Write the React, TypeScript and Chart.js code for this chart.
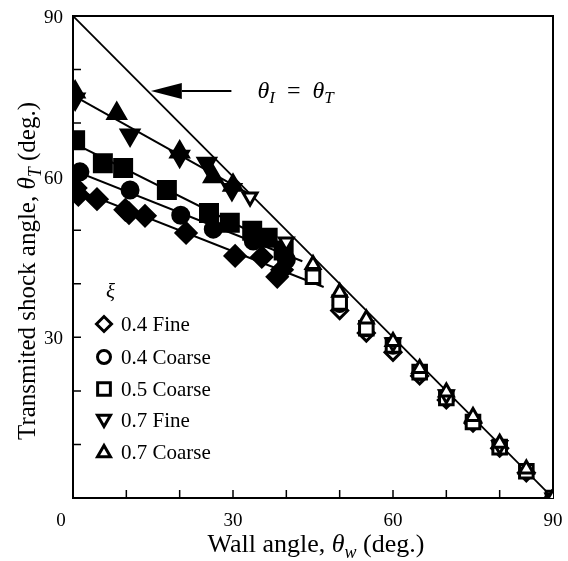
import React, { useEffect, useRef } from "react";
import { Chart, registerables } from "chart.js";
import { drawPoint } from "chart.js/helpers";
Chart.register(...registerables);

const FONT = '"Liberation Serif", "DejaVu Serif", serif';

// ---- data ----
const seriesLabels = ["0.4 Fine", "0.4 Coarse", "0.5 Coarse", "0.7 Fine", "0.7 Coarse"];
const seriesShapes = ["rectRot", "circle", "rect", "triangle", "triangle"];
const seriesRotations = [0, 0, 0, 180, 0];
const seriesRadius = [10, 8, 12, 10, 10];

const fine04FilledX = [0.5, 1.0, 4.5, 9.8, 10.5, 13.5, 21.2, 30.4, 35.4, 38.3, 39.2];
const fine04FilledY = [57.9, 56.6, 55.8, 53.8, 53.2, 52.7, 49.5, 45.2, 45.0, 41.3, 42.6];
const fine04OpenX = [50, 55, 60, 65, 70, 75, 80, 85, 90];
const fine04OpenY = [35.0, 30.8, 27.2, 22.8, 18.3, 14.0, 9.3, 4.7, 0];

const coarse04FilledX = [1.3, 10.7, 20.2, 26.3, 33.8, 40.0];
const coarse04FilledY = [60.9, 57.5, 52.8, 50.2, 48.0, 44.5];
const coarse04OpenX = [50, 55, 60, 65, 70, 75, 80, 85, 90];
const coarse04OpenY = [36.0, 31.5, 28.2, 23.3, 18.8, 14.3, 9.6, 5.0, 0];

const coarse05FilledX = [0.4, 5.6, 9.4, 17.6, 25.5, 29.4, 33.6, 36.5, 39.5];
const coarse05FilledY = [66.8, 62.5, 61.6, 57.5, 53.2, 51.4, 49.9, 48.6, 46.2];
const coarse05OpenX = [45, 50, 55, 60, 65, 70, 75, 80, 85, 90];
const coarse05OpenY = [41.3, 36.5, 31.7, 28.5, 23.5, 18.7, 14.2, 9.5, 5.0, 0];

const fine07FilledX = [0.4, 10.7, 20.0, 25.1, 29.8];
const fine07FilledY = [74.5, 67.8, 63.8, 62.5, 57.6];
const fine07OpenX = [33.2, 40, 60, 70, 80, 90];
const fine07OpenY = [56.2, 47.8, 29.0, 19.3, 9.8, 0];

const coarse07FilledX = [0.4, 8.2, 20.0, 26.3, 30.0];
const coarse07FilledY = [75.8, 71.8, 64.6, 60.0, 58.4];
const coarse07OpenX = [45, 50, 55, 60, 65, 70, 75, 80, 85, 90];
const coarse07OpenY = [43.6, 38.4, 33.4, 29.2, 24.2, 19.8, 15.2, 10.2, 5.4, 0];

// fitted lines
const lineFine04X = [0, 47];
const lineFine04Y = [57.8, 39.4];
const lineCoarse04X = [0, 43];
const lineCoarse04Y = [61.2, 44.2];
const lineCoarse05X = [0, 40];
const lineCoarse05Y = [66.3, 46.4];
const line07X = [0, 33];
const line07Y = [75.2, 56.8];
const diagX = [0, 90];
const diagY = [90, 0];

const xTickValues = [0, 30, 60, 90];
const yTickValues = [30, 60, 90];
const minorTickValues = [10, 20, 30, 40, 50, 60, 70, 80];

const filledX = [fine04FilledX, coarse04FilledX, coarse05FilledX, fine07FilledX, coarse07FilledX];
const filledY = [fine04FilledY, coarse04FilledY, coarse05FilledY, fine07FilledY, coarse07FilledY];
const openX = [fine04OpenX, coarse04OpenX, coarse05OpenX, fine07OpenX, coarse07OpenX];
const openY = [fine04OpenY, coarse04OpenY, coarse05OpenY, fine07OpenY, coarse07OpenY];
const linesX = [lineFine04X, lineCoarse04X, lineCoarse05X, line07X];
const linesY = [lineFine04Y, lineCoarse04Y, lineCoarse05Y, line07Y];

function pts(x: number[], y: number[]) {
  return x.map((v, i) => ({ x: v, y: y[i] }));
}

type Piece = { t: string; italic?: boolean; sub?: boolean };

function drawRich(ctx: CanvasRenderingContext2D, pieces: Piece[], x: number, y: number, size: number, align: "left" | "center") {
  const fontFor = (p: Piece) => `${p.italic ? "italic " : ""}${p.sub ? Math.round(size * 0.7) : size}px ${FONT}`;
  let total = 0;
  const widths = pieces.map((p) => {
    ctx.font = fontFor(p);
    const w = ctx.measureText(p.t).width;
    total += w;
    return w;
  });
  let cx = align === "center" ? x - total / 2 : x;
  ctx.textAlign = "left";
  ctx.textBaseline = "alphabetic";
  pieces.forEach((p, i) => {
    ctx.font = fontFor(p);
    ctx.fillText(p.t, cx, y + (p.sub ? size * 0.22 : 0));
    cx += widths[i];
  });
}

const decorPlugin = {
  id: "decor",
  beforeDatasetsDraw(chart: any) {
    const { ctx, chartArea: a, scales } = chart;
    ctx.save();
    ctx.strokeStyle = "#000";
    ctx.lineWidth = 2;
    ctx.strokeRect(a.left, a.top, a.right - a.left, a.bottom - a.top);
    ctx.lineWidth = 1.5;
    ctx.beginPath();
    minorTickValues.forEach((v) => {
      const px = scales.x.getPixelForValue(v);
      ctx.moveTo(px, a.bottom);
      ctx.lineTo(px, a.bottom - 8);
      const py = scales.y.getPixelForValue(v);
      ctx.moveTo(a.left, py);
      ctx.lineTo(a.left + 8, py);
    });
    ctx.stroke();
    ctx.restore();
  },
  afterDraw(chart: any) {
    const { ctx, chartArea: a, scales } = chart;
    ctx.save();
    ctx.fillStyle = "#000";
    // tick labels
    ctx.font = `19px ${FONT}`;
    ctx.textBaseline = "alphabetic";
    xTickValues.forEach((v) => {
      let px = scales.x.getPixelForValue(v);
      if (v === 0) px -= 12;
      ctx.textAlign = "center";
      ctx.fillText(String(v), px, a.bottom + 28);
    });
    yTickValues.forEach((v) => {
      const py = scales.y.getPixelForValue(v);
      ctx.textAlign = "right";
      ctx.fillText(String(v), a.left - 10, py + 7);
    });
    // x title
    drawRich(
      ctx,
      [{ t: "Wall angle, " }, { t: "θ", italic: true }, { t: "w", italic: true, sub: true }, { t: " (deg.)" }],
      (a.left + a.right) / 2 + 3,
      a.bottom + 54,
      26,
      "center"
    );
    // y title
    ctx.save();
    ctx.translate(35, 271);
    ctx.rotate(-Math.PI / 2);
    drawRich(
      ctx,
      [{ t: "Transmited shock angle, " }, { t: "θ", italic: true }, { t: "T", italic: true, sub: true }, { t: " (deg.)" }],
      0,
      0,
      25,
      "center"
    );
    ctx.restore();
    // annotation arrow
    const tipX = scales.x.getPixelForValue(14.6);
    const ay = scales.y.getPixelForValue(76.0);
    const baseX = scales.x.getPixelForValue(20.4);
    const endX = scales.x.getPixelForValue(29.7);
    ctx.beginPath();
    ctx.moveTo(tipX, ay);
    ctx.lineTo(baseX, ay - 8);
    ctx.lineTo(baseX, ay + 8);
    ctx.closePath();
    ctx.fill();
    ctx.lineWidth = 2;
    ctx.strokeStyle = "#000";
    ctx.beginPath();
    ctx.moveTo(baseX, ay);
    ctx.lineTo(endX, ay);
    ctx.stroke();
    drawRich(
      ctx,
      [{ t: "θ", italic: true }, { t: "I", italic: true, sub: true }, { t: "  =  " }, { t: "θ", italic: true }, { t: "T", italic: true, sub: true }],
      scales.x.getPixelForValue(34.6),
      ay + 7,
      24,
      "left"
    );
    // legend
    const lx = 104;
    const tx = 121;
    const rows = [324, 357, 389, 420, 452];
    ctx.font = `italic 21px ${FONT}`;
    ctx.textAlign = "left";
    ctx.fillText("ξ", lx + 2, 298);
    seriesLabels.forEach((lab, i) => {
      ctx.fillStyle = "#fff";
      ctx.strokeStyle = "#000";
      ctx.lineWidth = 3;
      const r = seriesShapes[i] === "rect" ? 9 : seriesShapes[i] === "circle" ? 6.5 : 7.5;
      drawPoint(
        ctx,
        { pointStyle: seriesShapes[i], rotation: seriesRotations[i], radius: r, borderWidth: 3 } as any,
        lx,
        rows[i] + (seriesShapes[i] === "triangle" ? (seriesRotations[i] ? -1 : 1) : 0)
      );
      ctx.fillStyle = "#000";
      ctx.font = `21px ${FONT}`;
      ctx.textBaseline = "middle";
      ctx.fillText(lab, tx, rows[i] + 1);
      ctx.textBaseline = "alphabetic";
    });
    ctx.restore();
  },
};

export default function App() {
  const ref = useRef<HTMLCanvasElement>(null);
  useEffect(() => {
    if (!ref.current) return;
    const markerSets = seriesLabels.map((label, i) => ({
      label,
      data: [...pts(filledX[i], filledY[i]), ...pts(openX[i], openY[i])],
      showLine: false,
      pointStyle: seriesShapes[i],
      pointRotation: seriesRotations[i],
      pointRadius: [...filledX[i].map(() => seriesRadius[i]), ...openX[i].map(() => seriesRadius[i] * 0.8)],
      pointBackgroundColor: [...filledX[i].map(() => "#000"), ...openX[i].map(() => "#fff")],
      pointBorderColor: "#000",
      pointBorderWidth: 3,
    }));
    const lineSets = linesX.map((lx, i) => ({
      label: "fit" + i,
      data: pts(lx, linesY[i]),
      showLine: true,
      borderColor: "#000",
      borderWidth: 2,
      pointRadius: 0,
    }));
    const diagSet = {
      label: "diag",
      data: pts(diagX, diagY),
      showLine: true,
      borderColor: "#000",
      borderWidth: 1.8,
      pointRadius: 0,
    };
    const chart = new Chart(ref.current, {
      type: "scatter",
      data: { datasets: [...markerSets.reverse(), ...lineSets, diagSet] as any },
      options: {
        animation: false,
        responsive: false,
        layout: { padding: { top: 16, right: 15, left: 0, bottom: 0 } },
        plugins: { legend: { display: false }, tooltip: { enabled: false } },
        scales: {
          x: {
            type: "linear",
            min: 0,
            max: 90,
            ticks: { display: false, stepSize: 10 },
            grid: { display: false },
            border: { display: false },
            afterFit: (s: any) => {
              s.height = 63;
            },
          },
          y: {
            type: "linear",
            min: 0,
            max: 90,
            ticks: { display: false, stepSize: 10 },
            grid: { display: false },
            border: { display: false },
            afterFit: (s: any) => {
              s.width = 73;
            },
          },
        },
      } as any,
      plugins: [decorPlugin],
    });
    return () => chart.destroy();
  }, []);
  return (
    <div style={{ position: "fixed", left: 0, top: 0, width: 568, height: 561, background: "#fff" }}>
      <canvas ref={ref} width={568} height={561} />
    </div>
  );
}
